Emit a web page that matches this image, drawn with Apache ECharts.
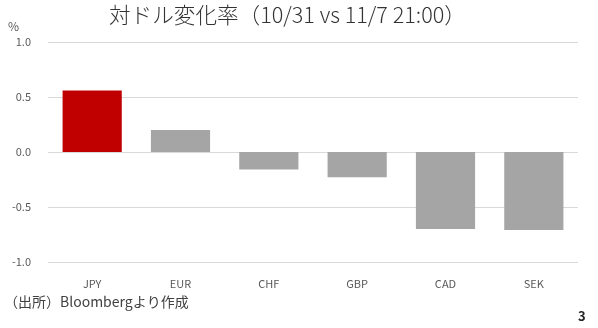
<!DOCTYPE html>
<html>
<head>
<meta charset="utf-8">
<script src="https://cdn.jsdelivr.net/npm/echarts@6/dist/echarts.min.js"></script>
<style>
html,body{margin:0;padding:0;background:#fff;}
#c{width:598px;height:328px;}
</style>
</head>
<body>
<div id="c"></div>
<script>
const categories = ['JPY', 'EUR', 'CHF', 'GBP', 'CAD', 'SEK'];
const values = [0.56, 0.20, -0.16, -0.23, -0.70, -0.71];
const barColors = ['#C00000', '#A5A5A5', '#A5A5A5', '#A5A5A5', '#A5A5A5', '#A5A5A5'];
const titleText = '対ドル変化率（10/31 vs 11/7 21:00）';
const unitLabel = '%';
const sourceText = '（出所）Bloombergより作成';
const pageNo = '3';

const chart = echarts.init(document.getElementById('c'), null, {renderer: 'canvas'});
const FONT = '"Noto Sans CJK JP", "Noto Sans", sans-serif';
chart.setOption({
  animation: false,
  backgroundColor: '#ffffff',
  title: {
    text: titleText,
    left: 104,
    top: -1,
    textStyle: {fontFamily: FONT, fontSize: 21.6, fontWeight: 300, color: '#333333'}
  },
  grid: {left: 48, right: 20, top: 42, bottom: 66, containLabel: false},
  xAxis: {
    type: 'category',
    data: categories,
    axisLine: {show: false},
    axisTick: {show: false},
    axisLabel: {fontFamily: FONT, fontSize: 11, color: '#595959', margin: 16}
  },
  yAxis: {
    type: 'value',
    min: -1.0,
    max: 1.0,
    interval: 0.5,
    axisLine: {show: false},
    axisTick: {show: false},
    splitLine: {lineStyle: {color: '#D9D9D9', width: 1}},
    axisLabel: {fontFamily: FONT, fontSize: 11, color: '#595959', margin: 17,
      formatter: v => v.toFixed(1)}
  },
  series: [{
    type: 'bar',
    data: values.map((v, i) => ({value: v, itemStyle: {color: barColors[i]}})),
    barCategoryGap: '33%'
  }],
  graphic: [
    {type: 'text', left: 8, top: 20, style: {text: unitLabel, font: '12px ' + FONT, fill: '#595959'}},
    {type: 'text', left: 4, top: 295, style: {text: sourceText, font: '14px ' + FONT, fill: '#404040'}},
    {type: 'text', left: 578, top: 310, style: {text: pageNo, font: 'bold 13px ' + FONT, fill: '#262626'}}
  ]
});
</script>
</body>
</html>
